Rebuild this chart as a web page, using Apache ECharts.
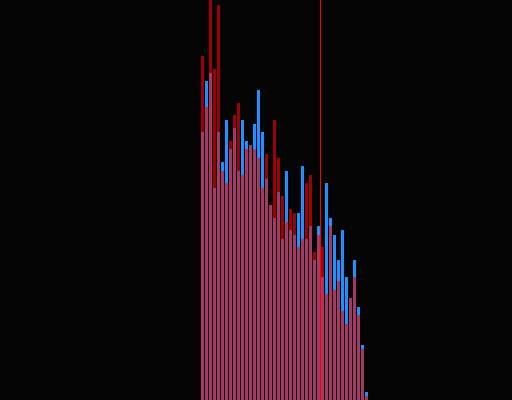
<!DOCTYPE html>
<html>
<head>
<meta charset="utf-8">
<script src="https://cdn.jsdelivr.net/npm/echarts@6/dist/echarts.min.js"></script>
<style>html,body{margin:0;padding:0;background:#050505;}#c{width:512px;height:400px;}</style>
</head>
<body>
<div id="c"></div>
<script>
// bin left edges (bins of width 1)
var binEdges = [0,1,2,3,4,5,6,7,8,9,10,11,12,13,14,15,16,17,18,19,20,21,22,23,24,25,26,27,28,29,30,31,32,33,34,35,36,37,38,39,40,41];
var redCounts = [344,293,400,331,395,229,217,259,285,297,225,251,255,251,242,212,246,195,280,242,204,178,191,187,153,161,217,225,148,165,153,106,174,110,119,89,76,102,123,85,51,4];
var blueCounts = [268,319,327,212,268,238,280,251,272,229,280,259,255,276,310,268,221,195,182,208,161,229,170,165,187,234,161,174,140,174,123,217,182,165,140,170,123,102,140,93,55,8];
var threshold = 30;

function pairs(vals){ return binEdges.map(function(e,i){ return [e + 0.5, vals[i]]; }); }

var chart = echarts.init(document.getElementById('c'), null, {renderer:'canvas'});
chart.setOption({
  backgroundColor: '#050505',
  animation: false,
  grid: {left: 0, right: 0, top: 0, bottom: 0},
  xAxis: {type: 'value', min: -50.125, max: 77.875, show: false},
  yAxis: {type: 'value', min: 0, max: 400, show: false},
  series: [
    {type: 'bar', data: pairs(blueCounts), barWidth: 3, barGap: '-100%',
     itemStyle: {color: '#1e90ff'}},
    {type: 'bar', data: pairs(redCounts), barWidth: 3, barGap: '-100%',
     itemStyle: {color: 'rgba(255,0,0,0.6)'},
     markLine: {silent: true, symbol: ['none','none'], label: {show: false},
       lineStyle: {color: '#ff0000', width: 1, type: 'solid', opacity: 1},
       emphasis: {disabled: true},
       data: [{xAxis: threshold}]}}
  ]
});
</script>
</body>
</html>
